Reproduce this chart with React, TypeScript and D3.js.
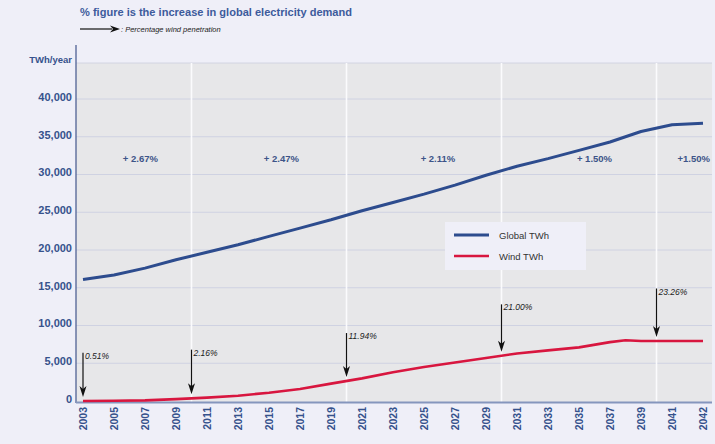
import React from "react";
import * as d3 from "d3";

// ---- Data ----
const axisYears = [2003, 2005, 2007, 2009, 2011, 2013, 2015, 2017, 2019, 2021, 2023, 2025, 2027, 2029, 2031, 2033, 2035, 2037, 2039, 2041, 2042];
const dataYears = [2003, 2005, 2007, 2009, 2011, 2013, 2015, 2017, 2019, 2021, 2023, 2025, 2027, 2029, 2031, 2033, 2035, 2037, 2038, 2039, 2041, 2042];
const globalTWh = [16100, 16700, 17600, 18700, 19700, 20700, 21800, 22900, 24000, 25200, 26300, 27400, 28600, 29900, 31100, 32100, 33200, 34300, 35000, 35700, 36600, 36800];
const windTWh = [0, 30, 80, 250, 450, 700, 1100, 1600, 2300, 3000, 3800, 4500, 5100, 5700, 6300, 6700, 7100, 7800, 8050, 7950, 7950, 7950];
const yTicks = [0, 5000, 10000, 15000, 20000, 25000, 30000, 35000, 40000];
const decadeYears = [2010, 2020, 2030, 2040];
const penetrationYears = [2003, 2010, 2020, 2030, 2040];
const penetrationLabels = ["0.51%", "2.16%", "11.94%", "21.00%", "23.26%"];
const penetrationTop = [6400, 6800, 9000, 12800, 14900];
const penetrationWind = [0, 350, 2650, 6000, 7950];
const growthYears = [2006.7, 2015.8, 2025.9, 2036.0, 2041.7];
const growthLabels = ["+ 2.67%", "+ 2.47%", "+ 2.11%", "+ 1.50%", "+1.50%"];

const W = 715, H = 444;
const plot = { left: 76, right: 712, top: 63, bottom: 402 };
const BLUE = "#2d4c8e";
const RED = "#d8163f";
const LABEL = "#36528c";
const FONT = "'Liberation Sans', Arial, sans-serif";

export default function App() {
  const x = d3.scaleLinear()
    .domain(axisYears)
    .range(axisYears.map((_, i) => 83 + i * 31));
  const y = d3.scaleLinear().domain([0, 40000]).range([401, 99]);

  const line = (vals: number[]) =>
    d3.line<number>()
      .x((_, i) => x(dataYears[i]))
      .y((v) => y(v))
      .curve(d3.curveLinear)(vals) || "";

  const arrowHead = (cx: number, tipY: number) =>
    `M${cx},${tipY} L${cx - 3.5},${tipY - 11} L${cx},${tipY - 8} L${cx + 3.5},${tipY - 11} Z`;

  return (
    <svg width={W} height={H} style={{ position: "absolute", left: 0, top: 0, display: "block" }}>
      <rect x={0} y={0} width={W} height={H} fill="#efeff8" />
      {/* Title */}
      <text x={80} y={16} fontFamily={FONT} fontWeight="bold" fontSize={11.5} fill="#3d5b9c"
        textLength={272} lengthAdjust="spacingAndGlyphs">% figure is the increase in global electricity demand</text>
      <line x1={80} y1={29} x2={112} y2={29} stroke="#111" strokeWidth={1.2} />
      <path d="M120,29 L110,25.5 L113,29 L110,32.5 Z" fill="#111" />
      <text x={121} y={32} fontFamily={FONT} fontStyle="italic" fontSize={7.5} fill="#222">: Percentage wind penetration</text>

      {/* Plot area */}
      <rect x={plot.left} y={plot.top} width={plot.right - plot.left} height={plot.bottom - plot.top} fill="#e7e7e9" />
      <line x1={plot.left} x2={plot.right} y1={plot.top} y2={plot.top} stroke="#d2d4e2" strokeWidth={1} />
      {yTicks.filter((t) => t > 0).map((t) => (
        <line key={t} x1={plot.left} x2={plot.right} y1={y(t)} y2={y(t)} stroke="#cfd2e2" strokeWidth={1} />
      ))}
      {decadeYears.map((yr) => (
        <line key={yr} x1={x(yr)} x2={x(yr)} y1={plot.top} y2={plot.bottom} stroke="#fbfbfd" strokeWidth={1.6} />
      ))}

      {/* Axes */}
      <line x1={plot.left} x2={plot.left} y1={45} y2={plot.bottom + 1} stroke="#4f6194" strokeWidth={1.3} />
      <line x1={plot.left} x2={plot.right} y1={plot.bottom + 0.5} y2={plot.bottom + 0.5} stroke="#8596bd" strokeWidth={2} />
      <text x={72} y={63} textAnchor="end" fontFamily={FONT} fontWeight="bold" fontSize={9.5} fill={LABEL}>TWh/year</text>
      {yTicks.map((t) => (
        <text key={t} x={72} y={y(t) - 2} dy="0.35em" textAnchor="end" fontFamily={FONT} fontWeight="bold" fontSize={11} fill={LABEL}>
          {d3.format(",")(t)}
        </text>
      ))}
      {axisYears.map((yr) => (
        <text key={yr} transform={`translate(${x(yr) + 4},${407}) rotate(-90)`} textAnchor="end"
          fontFamily={FONT} fontWeight="bold" fontSize={10.5} fill={LABEL}>{yr}</text>
      ))}

      {/* Growth labels */}
      {growthLabels.map((lab, i) => (
        <text key={lab + i} x={x(growthYears[i])} y={162} textAnchor="middle" fontFamily={FONT} fontWeight="bold" fontSize={9.5} fill="#3c5488">{lab}</text>
      ))}

      {/* Series */}
      <path d={line(globalTWh)} fill="none" stroke={BLUE} strokeWidth={3} strokeLinejoin="round" />
      <path d={line(windTWh)} fill="none" stroke={RED} strokeWidth={2.6} strokeLinejoin="round" />

      {/* Penetration arrows */}
      {penetrationYears.map((yr, i) => {
        const cx = x(yr);
        const top = y(penetrationTop[i]);
        const tip = y(penetrationWind[i]) - 4;
        return (
          <g key={yr}>
            <line x1={cx} x2={cx} y1={top} y2={tip - 6} stroke="#111" strokeWidth={1.2} />
            <path d={arrowHead(cx, tip)} fill="#111" />
            <text x={cx + 2} y={top + 6} fontFamily={FONT} fontStyle="italic" fontSize={8.5} fill="#222">{penetrationLabels[i]}</text>
          </g>
        );
      })}

      {/* Legend */}
      <rect x={445} y={222} width={141} height={48} fill="#efeff8" />
      <line x1={454} x2={489} y1={235} y2={235} stroke={BLUE} strokeWidth={3} />
      <line x1={454} x2={489} y1={256} y2={256} stroke={RED} strokeWidth={2.6} />
      <text x={499} y={238.5} fontFamily={FONT} fontSize={9.5} fill="#333">Global TWh</text>
      <text x={499} y={259.5} fontFamily={FONT} fontSize={9.5} fill="#333">Wind TWh</text>
    </svg>
  );
}
